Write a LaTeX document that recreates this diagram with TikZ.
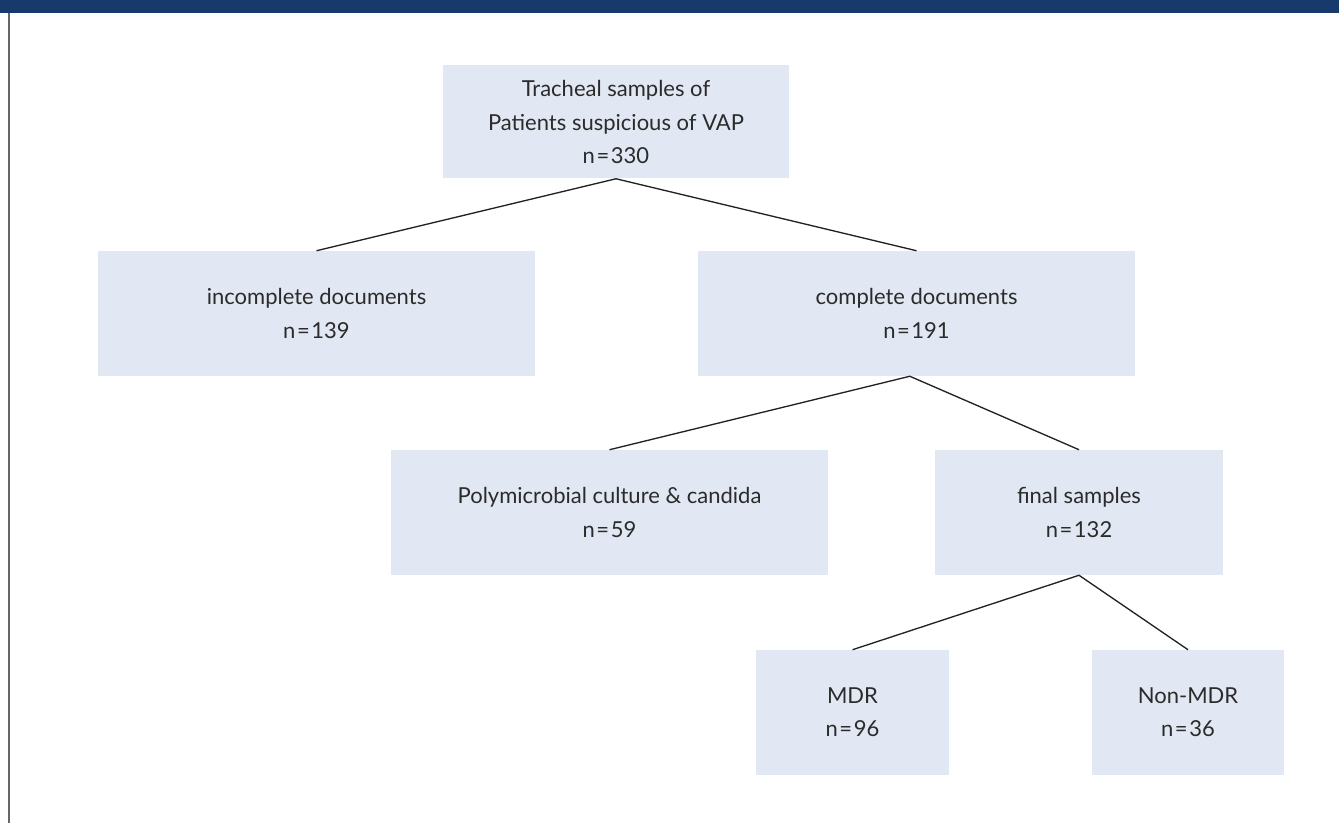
\documentclass[tikz,border=0pt]{standalone}
\usepackage{fontspec}
\setmainfont{Lato}
\definecolor{hdr}{HTML}{173A6D}
\definecolor{boxfill}{HTML}{E1E8F3}
\definecolor{txt}{HTML}{2B2B2B}
\definecolor{edge}{HTML}{222222}
\definecolor{frame}{HTML}{666666}
\newcommand{\ncount}[1]{n\kern1.2pt=\kern1.2pt#1}
\begin{document}
\begin{tikzpicture}[x=0.75pt,y=-0.75pt,
  box/.style={rectangle, fill=boxfill, draw=none, inner sep=0pt, align=center,
    text=txt, font=\fontsize{16.5}{25}\selectfont},
  link/.style={draw=edge, line width=1pt}]
\useasboundingbox (0,0) rectangle (1339,823);
\fill[hdr] (0,0) rectangle (1339,13);
\draw[frame, line width=1.1pt] (9,13) -- (9,823);

\node[box, minimum width=346*0.75pt, minimum height=113*0.75pt] (top) at (616,122)
  {Tracheal samples of\\Patients suspicious of VAP\\\ncount{330}};
\node[box, minimum width=437*0.75pt, minimum height=125*0.75pt] (inc) at (316.5,313.5)
  {incomplete documents\\\ncount{139}};
\node[box, minimum width=437*0.75pt, minimum height=125*0.75pt] (comp) at (916.5,313.5)
  {complete documents\\\ncount{191}};
\node[box, minimum width=437*0.75pt, minimum height=125*0.75pt] (poly) at (609.5,512.5)
  {Polymicrobial culture \& candida\\\ncount{59}};
\node[box, minimum width=288*0.75pt, minimum height=125*0.75pt] (final) at (1079,512.5)
  {final samples\\\ncount{132}};
\node[box, minimum width=193*0.75pt, minimum height=125*0.75pt] (mdr) at (852.5,712.5)
  {MDR\\\ncount{96}};
\node[box, minimum width=192*0.75pt, minimum height=125*0.75pt] (non) at (1188,712.5)
  {Non-MDR\\\ncount{36}};

\draw[link] (inc.north) -- (top.south) -- (comp.north);
\draw[link] (poly.north) -- ([xshift=-5pt]comp.south) -- (final.north);
\draw[link] (mdr.north) -- (final.south) -- (non.north);
\end{tikzpicture}
\end{document}
